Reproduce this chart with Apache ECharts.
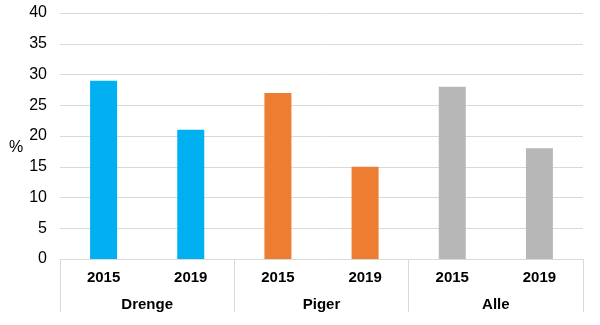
<!DOCTYPE html>
<html><head><meta charset="utf-8">
<script src="https://cdn.jsdelivr.net/npm/echarts@6/dist/echarts.min.js"></script>
<style>html,body{margin:0;padding:0;background:#fff}#c{width:600px;height:325px}</style>
</head><body><div id="c"></div>
<script>
const years = ['2015','2019','2015','2019','2015','2019'];
const groups = ['Drenge','Piger','Alle'];
const values = [29, 21, 27, 15, 28, 18];
const groupColors = ['#00B0F0', '#ED7D31', '#B7B7B7'];
const yTicks = { min: 0, max: 40, interval: 5 };

const chart = echarts.init(document.getElementById('c'));
const font = 'Liberation Sans, Arial, sans-serif';
chart.setOption({
  animation: false,
  grid: { left: 60, right: 17, top: 13, bottom: 66 },
  graphic: [{ type: 'text', left: 9, top: 140, style: { text: '%', font: '16px ' + font, fill: '#000' } }],
  xAxis: [
    { type: 'category', data: years, position: 'bottom',
      axisLine: { lineStyle: { color: '#D9D9D9', width: 1 } },
      axisTick: { show: false },
      axisLabel: { margin: 11, fontFamily: font, fontSize: 15, fontWeight: 'bold', color: '#000' } },
    { type: 'category', data: groups, position: 'bottom',
      axisLine: { show: false },
      axisTick: { show: true, alignWithLabel: false, length: 53, lineStyle: { color: '#D9D9D9' } },
      axisLabel: { margin: 38, fontFamily: font, fontSize: 15, fontWeight: 'bold', color: '#000' } }
  ],
  yAxis: { type: 'value', min: yTicks.min, max: yTicks.max, interval: yTicks.interval,
    axisLine: { show: false }, axisTick: { show: false },
    splitLine: { lineStyle: { color: '#D9D9D9' } },
    axisLabel: { margin: 13, fontFamily: font, fontSize: 16, color: '#000' } },
  series: [{ type: 'bar', xAxisIndex: 0, barWidth: 27,
    data: values.map((v, i) => ({ value: v, itemStyle: { color: groupColors[Math.floor(i / 2)] } })) }]
});
</script></body></html>
